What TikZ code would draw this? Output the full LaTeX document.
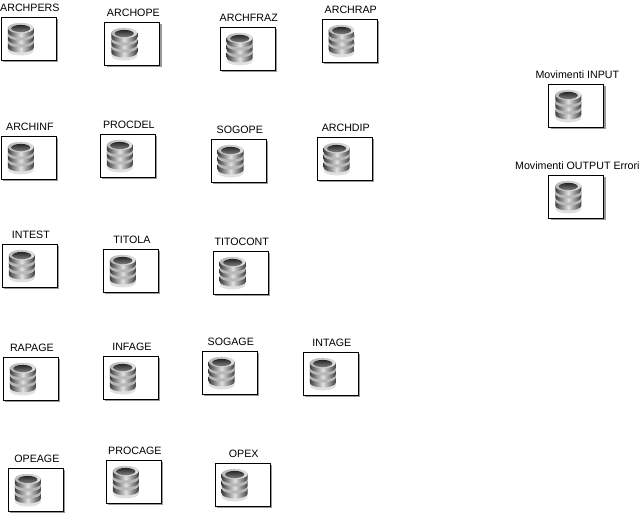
\documentclass[tikz,border=0pt]{standalone}
\usepackage{fontspec}
\setmainfont{Liberation Sans}
\usetikzlibrary{positioning,shadows}
\definecolor{dbdark}{gray}{0.25}
\definecolor{dbmid}{gray}{0.72}
\definecolor{dblite}{gray}{0.88}
\tikzset{
  dbbox/.style={draw=black,line width=0.75pt,fill=white,minimum width=41.5pt,minimum height=32.25pt,inner sep=0pt,
    drop shadow={shadow xshift=1.5pt,shadow yshift=-1.5pt,fill=black!40,opacity=1}},
  dblabel/.style={inner sep=0pt,font=\fontsize{8}{9.5}\selectfont,text height=6pt,text depth=0pt},
  dbdisc/.style={left color=dbdark,right color=dbdark,middle color=dblite,draw=none},
  pics/dbicon/.style={code={
    \foreach \yy/\lo in {7/dblite,-1/dbmid,-8/dbmid}{
      \fill[\lo] (-13,\yy+5) arc[start angle=180,end angle=360,x radius=13,y radius=-5] -- (13,\yy+2) -- (-13,\yy+2) -- cycle;
      \path[dbdisc] (-13,\yy-3) -- (-13,\yy+2) arc[start angle=180,end angle=360,x radius=13,y radius=-5] -- (13,\yy-3) -- cycle;
    }
    \path[left color=dbmid,right color=dblite] (0,-10.5) ellipse[x radius=13,y radius=5.2];
    \path[top color=black!85,bottom color=black!50] (0,-10) ellipse[x radius=9.5,y radius=3.6];
  }}
}
\begin{document}
\begin{tikzpicture}[x=0.75pt,y=-0.75pt]
\useasboundingbox (0,0) rectangle (639,514);
\foreach \nm/\x/\y/\txt in {
  archpers/28.8/38.5/ARCHPERS,archope/132.3/43.5/ARCHOPE,archfraz/247.7/48.5/ARCHFRAZ,archrap/349.7/40.5/ARCHRAP,
  archinf/28.8/157.5/ARCHINF,procdel/127.8/155.5/PROCDEL,sogope/238.7/160.5/SOGOPE,archdip/344.7/158.5/ARCHDIP,
  intest/29.8/265.5/INTEST,titola/130.8/270.5/TITOLA,titocont/240.7/272.5/TITOCONT,
  rapage/30.8/378.5/RAPAGE,infage/130.8/377.5/INFAGE,sogage/229.7/372.5/SOGAGE,intage/330.8/373.5/INTAGE,
  opeage/35.8/489.5/OPEAGE,procage/133.8/481.5/PROCAGE,opex/242.7/484.5/OPEX,
  movin/576.3/105.5/Movimenti INPUT,movout/576.3/196.5/Movimenti OUTPUT Errori}{
  \node[dbbox] (\nm) at (\x,\y) {};
  \node[dblabel,above=3.9pt of \nm,xshift=0.8pt] (\nm-label) {\txt};
  \pic at ([xshift=-6pt]\nm.center) {dbicon};
}
\end{tikzpicture}
\end{document}
